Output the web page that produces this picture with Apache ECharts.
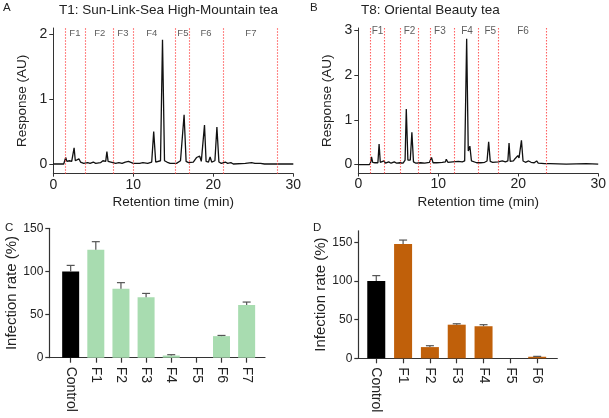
<!DOCTYPE html>
<html><head><meta charset="utf-8">
<script src="https://cdn.jsdelivr.net/npm/echarts@6/dist/echarts.min.js"></script>
<style>html,body{margin:0;padding:0;background:#fff}#c{width:609px;height:418px}</style>
</head><body><div id="c"></div>
<script>
// ---- Chromatogram T1 (panel A) ----
const t1Time = [0,1.3,1.45,1.55,1.7,2.0,2.3,2.45,2.6,2.75,3.0,3.2,3.4,3.8,4.3,4.6,5.0,5.3,5.9,6.2,6.4,6.55,6.7,6.85,7.1,7.8,8.2,8.6,9.0,9.2,9.4,9.6,10.0,10.8,11.2,11.8,12.3,12.55,12.8,13.0,13.4,13.65,13.9,14.2,14.6,15.4,15.9,16.1,16.35,16.6,16.9,17.5,17.9,18.1,18.3,18.5,18.7,18.9,19.1,19.4,19.6,19.8,20.2,20.45,20.7,21.0,21.5,21.8,22.2,22.5,24.0,24.8,24.95,25.2,25.9,26.1,26.4,30];
const t1Resp = [0,0,0.02,0.1,0.04,0.05,0.04,0.06,0.25,0.05,0.04,0.08,0.03,0.01,0.02,0.01,0.03,0.01,0.02,0.05,0.02,0.04,0.19,0.04,0.01,0.01,0.02,0.01,0.03,0.02,0.04,0.02,0.01,0.01,0.02,0.01,0.03,0.5,0.03,0.02,0.05,1.92,0.05,0.03,0.01,0.01,0.05,0.08,0.76,0.04,0.02,0.03,0.1,0.13,0.12,0.04,0.05,0.6,0.04,0.03,0.11,0.03,0.05,0.57,0.03,0.01,0.03,0.01,0.02,0,0.01,0.02,0.05,0.01,0.01,0.02,0,0];
// ---- Chromatogram T8 (panel B) ----
const t8Time = [0,1.4,1.55,1.65,1.8,2.1,2.45,2.6,2.75,3.0,3.2,3.4,3.8,4.1,4.5,4.8,5.2,5.6,5.85,6.0,6.2,6.5,6.7,6.9,7.2,7.8,8.3,8.9,9.15,9.35,9.8,10.5,10.9,11.0,11.2,11.8,12.5,13.0,13.3,13.55,13.75,13.95,14.15,14.4,14.8,15.3,15.8,16.1,16.3,16.5,16.8,17.5,18.0,18.4,18.7,18.85,19.0,19.4,19.6,19.8,19.95,20.1,20.4,20.6,20.9,21.3,21.6,22.0,22.3,22.5,23.3,24,26,28.5,30];
const t8Resp = [0,0,0.05,0.17,0.05,0.04,0.04,0.46,0.05,0.03,0.08,0.03,0.06,0.03,0.06,0.03,0.04,0.03,0.1,1.24,0.1,0.1,0.72,0.06,0.03,0.04,0.03,0.05,0.16,0.04,0.04,0.05,0.06,0.12,0.05,0.06,0.07,0.06,0.08,2.81,0.3,0.41,0.08,0.05,0.04,0.04,0.05,0.08,0.51,0.07,0.05,0.06,0.08,0.06,0.08,0.48,0.07,0.08,0.13,0.15,0.2,0.15,0.54,0.08,0.05,0.08,0.05,0.04,0.08,0.03,0.02,0.02,0.01,0.02,0.01];
// fraction cut times and labels
const t1Cuts = [1.5,4,7.5,10,15.3,17,21.3,28];
const t1FracNames = ['F1','F2','F3','F4','F5','F6','F7'];
const t1FracPos = [2.7,5.8,8.7,12.3,16.2,19.1,24.7];
const t8Cuts = [1.5,3.3,5.2,7.5,9,12,15,17.5,23.5];
const t8FracNames = ['F1','F2','F3','F4','F5','F6'];
const t8FracPos = [2.4,6.4,10.2,13.6,16.5,20.6];
const t1YTicks = [0,1,2];
const t8YTicks = [0,1,2,3];
// ---- Infection rate (panels C, D) ----
const catsC = ['Control','F1','F2','F3','F4','F5','F6','F7'];
const rateC = [100,125,80,70,2.5,0,25,61];
const errC = [7,9.5,7,4.5,1,0,0.8,3.5];
const catsD = ['Control','F1','F2','F3','F4','F5','F6'];
const rateD = [100,148,14.5,43.5,41.5,0,2];
const errD = [7,5,1.8,1.2,2,0,0.5];
const rateTicks = [0,50,100,150];

const FONT = 'Arial, "Liberation Sans", sans-serif';
const TXT = '#222';
const chart = echarts.init(document.getElementById('c'), null, {renderer:'canvas'});

function chromAxes(gi, ymin, ymax, yt){
  return {
    x: {type:'value', gridIndex:gi, min:0, max:30, interval:10,
      axisLine:{onZero:false, lineStyle:{color:'#333', width:1}},
      axisTick:{length:3, lineStyle:{color:'#333'}},
      axisLabel:{fontSize:14, color:TXT, fontFamily:FONT, margin:4},
      splitLine:{show:false},
      name:'Retention time (min)', nameLocation:'middle', nameGap:22,
      nameTextStyle:{fontSize:13.5, color:TXT, fontFamily:FONT}},
    y: {type:'value', gridIndex:gi, min:ymin, max:ymax,
      axisLine:{show:true, onZero:false, lineStyle:{color:'#333', width:1}},
      axisTick:{show:true, length:4, customValues:yt, lineStyle:{color:'#333'}},
      axisLabel:{fontSize:14, color:TXT, fontFamily:FONT, margin:6, customValues:yt},
      splitLine:{show:false},
      name:'Response (AU)', nameLocation:'middle', nameGap:24,
      nameTextStyle:{fontSize:13.5, color:TXT, fontFamily:FONT}}
  };
}
function barAxes(gi, cats, xmin, xmax, ymax){
  const idx = cats.map((c,i)=>i);
  return {
    x: {type:'value', gridIndex:gi, min:xmin, max:xmax,
      axisLine:{onZero:false, lineStyle:{color:'#333', width:1.2}},
      axisTick:{length:5, customValues:idx, lineStyle:{color:'#333', width:1.2}},
      axisLabel:{fontSize:14, color:TXT, fontFamily:FONT, margin:9, rotate:-90, customValues:idx,
        formatter:v=>cats[Math.round(v)]},
      splitLine:{show:false}},
    y: {type:'value', gridIndex:gi, min:0, max:ymax,
      axisLine:{show:true, onZero:false, lineStyle:{color:'#333', width:1.2}},
      axisTick:{show:true, length:4, customValues:rateTicks, lineStyle:{color:'#333', width:1.2}},
      axisLabel:{fontSize:12, color:TXT, fontFamily:FONT, margin:6, customValues:rateTicks},
      splitLine:{show:false},
      name:'Infection rate (%)', nameLocation:'middle', nameGap:29,
      nameTextStyle:{fontSize:15, color:TXT, fontFamily:FONT}}
  };
}
const aA = chromAxes(0, -0.15, 2.1, t1YTicks);
const aB = chromAxes(1, -0.2, 3.05, t8YTicks);
const aC = barAxes(2, catsC, -0.85, 7.73, 150);
const aD = barAxes(3, catsD, -0.67, 6.75, 165);

function chromSeries(gi, times, resp, cuts){
  return {type:'line', xAxisIndex:gi, yAxisIndex:gi, data:times.map((t,i)=>[t, resp[i]]),
    symbol:'none', lineStyle:{color:'#111', width:1.3}, z:3,
    markLine:{silent:true, symbol:['none','none'], label:{show:false},
      lineStyle:{color:'rgba(255,70,70,0.85)', type:[1.5,1.5], width:1.1},
      data:cuts.map(c=>({xAxis:c}))}};
}
function fracLabels(gi, names, pos, yv, fs){
  return {type:'scatter', xAxisIndex:gi, yAxisIndex:gi, symbolSize:0, silent:true,
    data:names.map((n,i)=>({name:n, value:[pos[i], yv]})),
    label:{show:true, position:'inside', formatter:'{b}', fontSize:fs, color:'#333', fontFamily:FONT}};
}
function barSeries(gi, vals, color){
  return {type:'bar', xAxisIndex:gi, yAxisIndex:gi, barWidth: gi===2?17:18,
    data:vals.map((v,i)=>[i,v]),
    itemStyle:{color:p=>p.dataIndex===0?'#000':color}};
}
function errSeries(gi, vals, errs){
  return {type:'custom', xAxisIndex:gi, yAxisIndex:gi, z:5, silent:true,
    data:vals.map((v,i)=>[i, v, v+errs[i]]),
    encode:{x:0, y:[1,2]},
    renderItem:(params, api)=>{
      if (api.value(2) - api.value(1) <= 0) return null;
      const b = api.coord([api.value(0), api.value(1)]);
      const t = api.coord([api.value(0), api.value(2)]);
      const st = {stroke:'#555', lineWidth:1.2};
      return {type:'group', children:[
        {type:'line', shape:{x1:t[0], y1:t[1], x2:b[0], y2:b[1]}, style:st},
        {type:'line', shape:{x1:t[0]-4, y1:t[1], x2:t[0]+4, y2:t[1]}, style:st}
      ]};
    }};
}

const titleStyle = (fs)=>({fontSize:fs, fontWeight:'normal', color:TXT, fontFamily:FONT});
chart.setOption({
  animation:false,
  backgroundColor:'#fff',
  title:[
    {text:'A', left:3, top:2, padding:0, textStyle:titleStyle(11.5)},
    {text:'T1: Sun-Link-Sea High-Mountain tea', left:59, top:3, padding:0, textStyle:titleStyle(13.5)},
    {text:'B', left:310, top:2, padding:0, textStyle:titleStyle(11.5)},
    {text:'T8: Oriental Beauty tea', left:361, top:3, padding:0, textStyle:titleStyle(13.5)},
    {text:'C', left:5, top:222, padding:0, textStyle:titleStyle(11.5)},
    {text:'D', left:313, top:222, padding:0, textStyle:titleStyle(11.5)}
  ],
  grid:[
    {left:53.3, top:28, width:240, height:145.7},
    {left:358.3, top:28, width:240, height:145.5},
    {left:49.3, top:228.3, width:215.7, height:129.4},
    {left:358.3, top:230.8, width:199, height:127.5}
  ],
  xAxis:[aA.x, aB.x, aC.x, aD.x],
  yAxis:[aA.y, aB.y, aC.y, aD.y],
  series:[
    chromSeries(0, t1Time, t1Resp, t1Cuts),
    fracLabels(0, t1FracNames, t1FracPos, 2.02, 9.5),
    chromSeries(1, t8Time, t8Resp, t8Cuts),
    fracLabels(1, t8FracNames, t8FracPos, 2.98, 10),
    barSeries(2, rateC, '#a8dcb0'),
    errSeries(2, rateC, errC),
    barSeries(3, rateD, '#c0600a'),
    errSeries(3, rateD, errD)
  ]
});
</script></body></html>
